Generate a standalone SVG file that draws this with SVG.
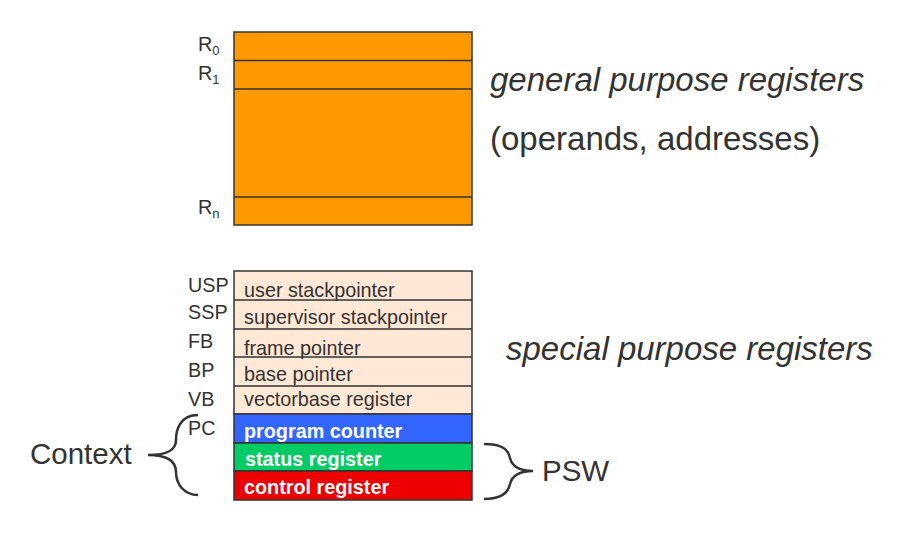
<svg xmlns="http://www.w3.org/2000/svg" width="897" height="537" viewBox="0 0 897 537">
<style>
text{font-family:"Liberation Sans",Arial,sans-serif;fill:#333}
.lbl{font-size:19.8px}
.big{font-size:29.5px}
.big2{font-size:33px}
.it{font-style:italic}
.reg{stroke:#333;stroke-width:1.5}
.w{fill:#fff;font-weight:bold;font-size:19.8px}
.brace{fill:none;stroke:#333;stroke-width:2.5}
</style>
<rect width="897" height="537" fill="#fff"/>
<g id="general">
<rect class="reg" x="234" y="32" width="238" height="193" fill="#ff9900"/>
<line class="reg" x1="234" y1="60.5" x2="472" y2="60.5"/>
<line class="reg" x1="234" y1="89" x2="472" y2="89"/>
<line class="reg" x1="234" y1="197" x2="472" y2="197"/>
<text class="lbl" x="198" y="51">R<tspan font-size="13" dy="4">0</tspan></text>
<text class="lbl" x="198" y="80">R<tspan font-size="13" dy="4">1</tspan></text>
<text class="lbl" x="198" y="214">R<tspan font-size="13" dy="4">n</tspan></text>
</g>
<g id="special">
<rect class="reg" x="234" y="271" width="238" height="143" fill="#ffe8d5"/>
<line class="reg" x1="234" y1="300" x2="472" y2="300"/>
<line class="reg" x1="234" y1="329" x2="472" y2="329"/>
<line class="reg" x1="234" y1="357" x2="472" y2="357"/>
<line class="reg" x1="234" y1="386" x2="472" y2="386"/>
<rect class="reg" x="234" y="414" width="238" height="29" fill="#3366ff"/>
<rect class="reg" x="234" y="443" width="238" height="28" fill="#00cc66"/>
<rect class="reg" x="234" y="471" width="238" height="29" fill="#ee0000"/>
<text class="lbl" x="244" y="297">user stackpointer</text>
<text class="lbl" x="244" y="324">supervisor stackpointer</text>
<text class="lbl" x="244" y="355">frame pointer</text>
<text class="lbl" x="244" y="381">base pointer</text>
<text class="lbl" x="244" y="406">vectorbase register</text>
<text class="w" x="244" y="438">program counter</text>
<text class="w" x="245" y="466">status register</text>
<text class="w" x="244" y="494">control register</text>
<text class="lbl" x="188" y="292">USP</text>
<text class="lbl" x="188" y="319">SSP</text>
<text class="lbl" x="188" y="348">FB</text>
<text class="lbl" x="188" y="377">BP</text>
<text class="lbl" x="188" y="406">VB</text>
<text class="lbl" x="188" y="435">PC</text>
</g>
<g id="text-labels">
<text class="big2 it" x="490" y="91">general purpose registers</text>
<text class="big2" x="490" y="150">(operands, addresses)</text>
<text class="big2 it" x="506" y="360">special purpose registers</text>
<text class="big" x="30" y="464">Context</text>
<text class="big" x="542" y="481">PSW</text>
</g>
<g id="connectors">
<path class="brace" d="M198,415 C180,415 176,430 176,440 C176,450 168,455 148,455 C168,455 176,462 176,472 C176,484 184,495 198,495"/>
<path class="brace" d="M484,444 C500,444 508,448 510,458 C512,466 518,471 533,471 C518,471 512,476 510,484 C508,494 500,499 484,499"/>
</g>
</svg>
